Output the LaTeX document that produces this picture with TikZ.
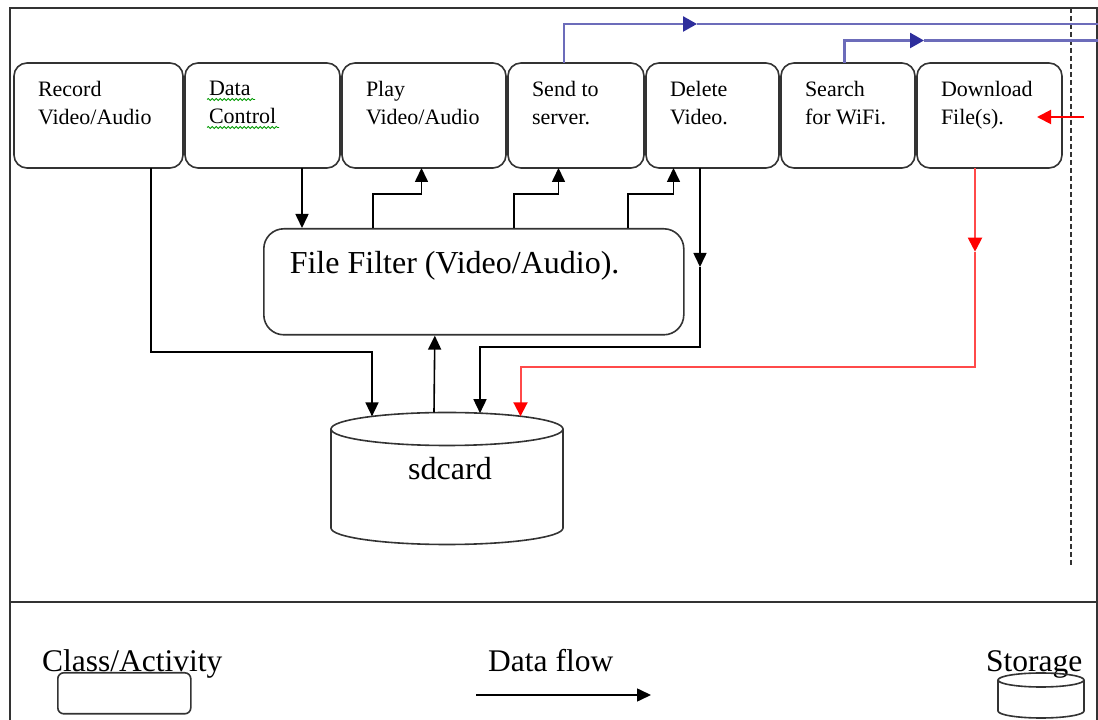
\documentclass[tikz,border=0pt]{standalone}
\usepackage{fontspec}
\setmainfont{Liberation Serif}
\usetikzlibrary{positioning,arrows.meta,decorations.pathmorphing}

\definecolor{framegray}{HTML}{333333}
\definecolor{wireblue}{HTML}{6C6CBA}
\definecolor{tipblue}{HTML}{2E2E9C}
\definecolor{wirered}{HTML}{FF4A4A}

% text set at the top left of a box
\newcommand{\boxtext}[2]{\parbox[t][68pt][t]{#1}{\raggedright #2}}

\begin{document}
\begin{tikzpicture}[x=1pt, y=1pt,
        actbox/.style={draw=framegray, line width=1.6pt, outer sep=0pt, rounded corners=13pt, inner xsep=24pt, inner ysep=18.5pt, font=\fontsize{22}{27.5}\selectfont},
        filterbox/.style={draw=framegray, line width=1.6pt, rounded corners=20pt, inner xsep=26pt, inner ysep=23pt, font=\fontsize{32}{38}\selectfont},
        bigtext/.style={font=\fontsize{32}{38}\selectfont},
        legtext/.style={anchor=base west, inner sep=0pt, font=\fontsize{31.5}{36}\selectfont},
        flow/.style={line width=1.6pt, -{Triangle[width=13pt,length=14pt]}},
        redflow/.style={wirered, line width=2pt, -{Triangle[width=14pt,length=14pt,color=red]}},
        blueflow/.style={wireblue, line width=2.5pt, -{Triangle[width=15pt,length=14pt,color=tipblue]}},
        blueline/.style={wireblue, line width=2.5pt},
        frame/.style={draw=framegray, line width=1.8pt},
        bound/.style={framegray, line width=1.8pt, dash pattern=on 5pt off 3pt},
        store/.style={draw=framegray, line width=1.6pt},
        spell/.style={green!60!black, line width=0.8pt, decorate, decoration={snake, segment length=4pt, amplitude=1pt}}]
        \useasboundingbox (0,0) rectangle (1098,720);

        % Frame
        \draw[frame] (10,0) -- (10,712) -- (1097,712) -- (1097,0);
        \draw[frame] (10,118) -- (1097,118);
        \draw[bound] (1071,712) -- (1071,153);

        % Nodes
        \node (rec) [actbox, anchor=north west] at (14,657) {\boxtext{121pt}{Record\\Video/Audio}};
        \node (ctl) [actbox, right=2pt of rec] {\boxtext{107pt}{Data\\Control}};
        \node (play) [actbox, right=2pt of ctl] {\boxtext{116pt}{Play\\Video/Audio}};
        \node (send) [actbox, right=2pt of play] {\boxtext{88pt}{Send to\\server.}};
        \node (del) [actbox, right=2pt of send] {\boxtext{85pt}{Delete\\Video.}};
        \node (wifi) [actbox, right=2pt of del] {\boxtext{86pt}{Search\\for WiFi.}};
        \node (down) [actbox, right=2pt of wifi] {\boxtext{97pt}{Download\\File(s).}};

        \node (ff) [filterbox, anchor=north west] at (263,492) {\parbox[t][60pt][t]{368pt}{File Filter (Video/Audio).}};

        % sdcard
        \draw[store, fill=white] (331,291) -- (331,192) arc[start angle=180, end angle=360, x radius=116, y radius=16.5] -- (563,291);
        \draw[store] (447,291) ellipse [x radius=116, y radius=16.5];
        \coordinate (sdtop) at (447,307.5);
        \node (sd) [bigtext, anchor=base] at (450,240) {sdcard};

        % spelling marks
        \draw[spell] ([xshift=22pt,yshift=-36.5pt]ctl.north west) -- ++(48,0);
        \draw[spell] ([xshift=22pt,yshift=-64.5pt]ctl.north west) -- ++(72,0);

        % Arrows
        \draw[flow] ([xshift=52.5pt]rec.south) -- ++(0,-184) -| ([xshift=-75pt,yshift=-3.9pt]sdtop);
        \draw[flow] ([xshift=39.5pt]ctl.south) -- ++(0,-60);
        \draw[flow] ([xshift=-101pt]ff.north) -- ++(0,34) -| ([xshift=-2.5pt]play.south);
        \draw[flow] ([xshift=40pt]ff.north) -- ++(0,34) -| ([xshift=-17.5pt]send.south);
        \draw[flow] ([xshift=154pt]ff.north) -- ++(0,34) -| ([xshift=-39pt]del.south);
        \draw[flow] ([xshift=-12.5pt]del.south) -- ++(0,-99) coordinate (delmid);
        \draw[flow] (delmid) -- ++(0,-80.3) -| ([xshift=33pt,yshift=-0.7pt]sdtop);
        \draw[flow] ([xshift=-13pt]sdtop) -- ([xshift=-39pt]ff.south);

        \draw[redflow] ([xshift=-14.5pt]down.south) -- ++(0,-83.7) coordinate (dlmid);
        \draw[redflow] (dlmid) -- ++(0,-115) -| ([xshift=73.5pt,yshift=-3.8pt]sdtop);
        \draw[redflow, red] ([xshift=22pt,yshift=-1.5pt]down.east) -- ([xshift=-25pt,yshift=-1.5pt]down.east);

        \coordinate (sendmid) at (697,696);
        \coordinate (sendout) at (1098,696);
        \coordinate (wifimid) at (924,679.5);
        \coordinate (wifiout) at (1098,679.5);
        \draw[blueflow] ([xshift=-12pt]send.north) |- (sendmid);
        \draw[blueline] (sendmid) -- (sendout);
        \draw[blueflow] ([xshift=-3.5pt]wifi.north) |- (wifimid);
        \draw[blueline] (wifimid) -- (wifiout);

        % Legend
        \node (legact) [legtext] at (42,48) {Class/Activity};
        \node (legbox) [draw=framegray, line width=1.6pt, rounded corners=6pt, anchor=north west, minimum width=133pt, minimum height=41pt] at (57,48) {};
        \node (legflow) [legtext] at (488,48) {Data flow};
        \coordinate (legA) at (476,25);
        \coordinate (legB) at (651,25);
        \draw[flow] (legA) -- (legB);
        \node (legstore) [legtext] at (986,48) {Storage};
        \draw[store, fill=white] (998,40) -- (998,9) arc[start angle=180, end angle=360, x radius=43, y radius=7] -- (1084,40);
        \draw[store] (1041,40) ellipse [x radius=43, y radius=7];
    \end{tikzpicture}
\end{document}
